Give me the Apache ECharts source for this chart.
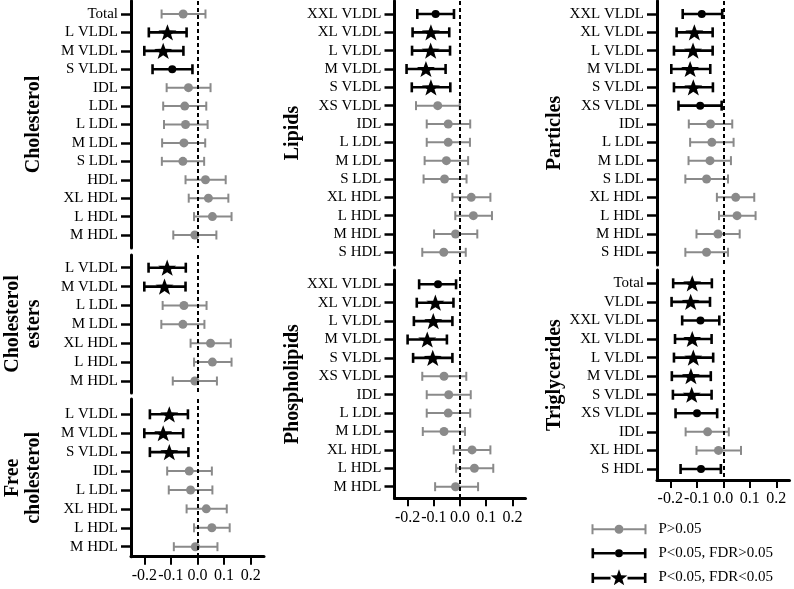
<!DOCTYPE html>
<html>
<head>
<meta charset="utf-8">
<script src="https://cdn.jsdelivr.net/npm/echarts@6/dist/echarts.min.js"></script>
<style>
  html, body { margin: 0; padding: 0; background: #fff; }
  #chart { width: 794px; height: 589px; }
</style>
</head>
<body>
<div id="chart"></div>
<script>
// values: estimate, 95% CI low / high, significance class
// sig: 0 = P>0.05, 1 = P<0.05 FDR>0.05, 2 = P<0.05 FDR<0.05
const cholLabels = ['Total', 'L VLDL', 'M VLDL', 'S VLDL', 'IDL', 'LDL', 'L LDL', 'M LDL', 'S LDL', 'HDL', 'XL HDL', 'L HDL', 'M HDL'];
const cholEst = [-0.054, -0.113, -0.129, -0.095, -0.034, -0.048, -0.045, -0.051, -0.055, 0.030, 0.041, 0.056, -0.010];
const cholLow = [-0.135, -0.183, -0.200, -0.169, -0.116, -0.129, -0.126, -0.133, -0.134, -0.045, -0.033, -0.013, -0.091];
const cholHigh = [0.030, -0.041, -0.053, -0.019, 0.049, 0.033, 0.038, 0.029, 0.025, 0.106, 0.116, 0.128, 0.071];
const cholSig = [0, 2, 2, 1, 0, 0, 0, 0, 0, 0, 0, 0, 0];

const esterLabels = ['L VLDL', 'M VLDL', 'L LDL', 'M LDL', 'XL HDL', 'L HDL', 'M HDL'];
const esterEst = [-0.114, -0.124, -0.051, -0.055, 0.049, 0.056, -0.010];
const esterLow = [-0.184, -0.200, -0.131, -0.136, -0.026, -0.013, -0.093];
const esterHigh = [-0.044, -0.045, 0.034, 0.026, 0.125, 0.128, 0.073];
const esterSig = [2, 2, 0, 0, 0, 0, 0];

const freeLabels = ['L VLDL', 'M VLDL', 'S VLDL', 'IDL', 'L LDL', 'XL HDL', 'L HDL', 'M HDL'];
const freeEst = [-0.106, -0.129, -0.106, -0.031, -0.026, 0.033, 0.054, -0.008];
const freeLow = [-0.179, -0.200, -0.179, -0.114, -0.108, -0.041, -0.013, -0.089];
const freeHigh = [-0.036, -0.054, -0.034, 0.054, 0.056, 0.110, 0.121, 0.075];
const freeSig = [2, 2, 2, 0, 0, 0, 0, 0];

const lipidLabels = ['XXL VLDL', 'XL VLDL', 'L VLDL', 'M VLDL', 'S VLDL', 'XS VLDL', 'IDL', 'L LDL', 'M LDL', 'S LDL', 'XL HDL', 'L HDL', 'M HDL', 'S HDL'];
const lipidEst = [-0.093, -0.111, -0.112, -0.130, -0.111, -0.085, -0.045, -0.045, -0.052, -0.059, 0.043, 0.051, -0.017, -0.062];
const lipidLow = [-0.163, -0.181, -0.183, -0.204, -0.184, -0.168, -0.127, -0.127, -0.135, -0.139, -0.029, -0.018, -0.099, -0.144];
const lipidHigh = [-0.023, -0.041, -0.038, -0.055, -0.037, -0.001, 0.039, 0.038, 0.031, 0.025, 0.116, 0.122, 0.066, 0.022];
const lipidSig = [1, 2, 2, 2, 2, 0, 0, 0, 0, 0, 0, 0, 0, 0];

const phosLabels = ['XXL VLDL', 'XL VLDL', 'L VLDL', 'M VLDL', 'S VLDL', 'XS VLDL', 'IDL', 'L LDL', 'M LDL', 'XL HDL', 'L HDL', 'M HDL'];
const phosEst = [-0.084, -0.094, -0.102, -0.125, -0.104, -0.061, -0.043, -0.045, -0.061, 0.046, 0.055, -0.017];
const phosLow = [-0.156, -0.165, -0.176, -0.200, -0.179, -0.144, -0.127, -0.127, -0.142, -0.024, -0.015, -0.095];
const phosHigh = [-0.015, -0.025, -0.029, -0.050, -0.029, 0.024, 0.041, 0.039, 0.019, 0.116, 0.127, 0.069];
const phosSig = [1, 2, 2, 2, 2, 0, 0, 0, 0, 0, 0, 0];

const partLabels = ['XXL VLDL', 'XL VLDL', 'L VLDL', 'M VLDL', 'S VLDL', 'XS VLDL', 'IDL', 'L LDL', 'M LDL', 'S LDL', 'XL HDL', 'L HDL', 'M HDL', 'S HDL'];
const partEst = [-0.081, -0.109, -0.114, -0.125, -0.113, -0.087, -0.048, -0.043, -0.050, -0.063, 0.047, 0.052, -0.020, -0.063];
const partLow = [-0.153, -0.176, -0.186, -0.196, -0.186, -0.169, -0.130, -0.125, -0.131, -0.143, -0.024, -0.016, -0.101, -0.143];
const partHigh = [-0.004, -0.040, -0.040, -0.049, -0.039, -0.006, 0.034, 0.039, 0.029, 0.018, 0.117, 0.122, 0.062, 0.018];
const partSig = [1, 2, 2, 2, 2, 1, 0, 0, 0, 0, 0, 0, 0, 0];

const trigLabels = ['Total', 'VLDL', 'XXL VLDL', 'XL VLDL', 'L VLDL', 'M VLDL', 'S VLDL', 'XS VLDL', 'IDL', 'XL HDL', 'S HDL'];
const trigEst = [-0.117, -0.123, -0.086, -0.117, -0.113, -0.122, -0.119, -0.099, -0.059, -0.018, -0.084];
const trigLow = [-0.189, -0.195, -0.155, -0.182, -0.186, -0.194, -0.190, -0.180, -0.142, -0.101, -0.161];
const trigHigh = [-0.043, -0.050, -0.015, -0.044, -0.038, -0.047, -0.044, -0.023, 0.021, 0.067, -0.009];
const trigSig = [2, 2, 1, 2, 2, 2, 2, 1, 0, 0, 1];

const xTicks = [-0.2, -0.1, 0, 0.1, 0.2];
const sigNames = ['P>0.05', 'P<0.05, FDR>0.05', 'P<0.05, FDR<0.05'];

const FONT = 'Liberation Serif';
const GRAY = '#8a8a8a';
const sigColors = [GRAY, '#000', '#000'];

// column x placement (left edge, width) and panel y placement (axis ends, first / last row)
const columns = [
  { left: 131, width: 133 },
  { left: 394.5, width: 131 },
  { left: 657, width: 132.5 }
];

const panels = [
  { title: 'Cholesterol', col: 0, top: 1, bottom: 248, first: 14, last: 235, xAxis: false,
    labels: cholLabels, est: cholEst, low: cholLow, high: cholHigh, sig: cholSig },
  { title: 'Cholesterol\nesters', col: 0, top: 255, bottom: 393, first: 267.7, last: 381, xAxis: false,
    labels: esterLabels, est: esterEst, low: esterLow, high: esterHigh, sig: esterSig },
  { title: 'Free\ncholesterol', col: 0, top: 399, bottom: 556.7, first: 414.3, last: 546.7, xAxis: true,
    labels: freeLabels, est: freeEst, low: freeLow, high: freeHigh, sig: freeSig },
  { title: 'Lipids', col: 1, top: 1, bottom: 265, first: 14, last: 252.3, xAxis: false,
    labels: lipidLabels, est: lipidEst, low: lipidLow, high: lipidHigh, sig: lipidSig },
  { title: 'Phospholipids', col: 1, top: 270, bottom: 498.3, first: 284.3, last: 486.7, xAxis: true,
    labels: phosLabels, est: phosEst, low: phosLow, high: phosHigh, sig: phosSig },
  { title: 'Particles', col: 2, top: 1, bottom: 265, first: 14, last: 252.3, xAxis: false,
    labels: partLabels, est: partEst, low: partLow, high: partHigh, sig: partSig },
  { title: 'Triglycerides', col: 2, top: 270, bottom: 480, first: 283.3, last: 469, xAxis: true,
    labels: trigLabels, est: trigEst, low: trigLow, high: trigHigh, sig: trigSig }
];

function starPath(cx, cy, R, r) {
  let d = '';
  for (let i = 0; i < 10; i++) {
    const rad = i % 2 === 0 ? R : r;
    const a = -Math.PI / 2 + i * Math.PI / 5;
    const x = (cx + rad * Math.cos(a)).toFixed(2);
    const y = (cy + rad * Math.sin(a)).toFixed(2);
    d += (i === 0 ? 'M' : 'L') + x + ',' + y + ' ';
  }
  return d + 'Z';
}

const STAR = 'path://' + starPath(0, 0, 10, 4);

function renderBar(params, api) {
  const y = api.value(2);
  const a = api.coord([api.value(0), y]);
  const b = api.coord([api.value(1), y]);
  const k = api.value(3);
  const h = k === 0 ? 4.5 : 5;
  const style = { stroke: sigColors[k], lineWidth: k === 0 ? 2 : 2.6, fill: null };
  return {
    type: 'group',
    children: [
      { type: 'line', shape: { x1: a[0], y1: a[1], x2: b[0], y2: b[1] }, style: style },
      { type: 'line', shape: { x1: a[0], y1: a[1] - h, x2: a[0], y2: a[1] + h }, style: style },
      { type: 'line', shape: { x1: b[0], y1: b[1] - h, x2: b[0], y2: b[1] + h }, style: style }
    ]
  };
}

const grid = [], xAxis = [], yAxis = [], series = [];

panels.forEach((p, i) => {
  const n = p.labels.length;
  const step = (p.last - p.first) / (n - 1);
  const col = columns[p.col];
  grid.push({ left: col.left, width: col.width, top: p.top, height: p.bottom - p.top, outerBoundsMode: 'none' });

  xAxis.push({
    type: 'value', gridIndex: i, min: -0.25, max: 0.25, show: p.xAxis, position: 'bottom',
    splitLine: { show: false },
    axisLine: { show: true, onZero: false, lineStyle: { color: '#000', width: 3 } },
    axisTick: { show: true, length: 8, lineStyle: { color: '#000', width: 2 }, customValues: xTicks },
    axisLabel: { customValues: xTicks, margin: 11, color: '#000', fontFamily: FONT, fontSize: 16,
      formatter: v => v.toFixed(1) }
  });

  const idx = p.labels.map((_, j) => j);
  yAxis.push({
    type: 'value', gridIndex: i, inverse: true,
    min: -(p.first - p.top) / step, max: (n - 1) + (p.bottom - p.last) / step,
    splitLine: { show: false },
    axisLine: { show: true, onZero: false, lineStyle: { color: '#000', width: 3 } },
    axisTick: { show: true, length: 10, lineStyle: { color: '#000', width: 2.5 }, customValues: idx },
    axisLabel: { customValues: idx, margin: 13, color: '#000', fontFamily: FONT, fontSize: 15,
      formatter: v => p.labels[Math.round(v)] },
    name: p.title, nameLocation: 'middle', nameRotate: 90, nameGap: 87,
    nameTextStyle: { color: '#000', fontFamily: FONT, fontSize: 20, fontWeight: 'bold', lineHeight: 21 }
  });

  [0, 1, 2].forEach(k => {
    const rows = idx.filter(j => p.sig[j] === k);
    if (!rows.length) return;
    series.push({
      type: 'custom', name: sigNames[k], xAxisIndex: i, yAxisIndex: i, z: 3,
      renderItem: renderBar, clip: false,
      encode: { x: [0, 1], y: 2 },
      data: rows.map(j => [p.low[j], p.high[j], j, k])
    });
    const s = {
      type: 'scatter', name: sigNames[k], xAxisIndex: i, yAxisIndex: i, z: k === 0 ? 2 : 4,
      symbol: k === 2 ? STAR : 'circle',
      symbolSize: k === 2 ? [18, 17] : (k === 1 ? 8 : 9),
      symbolKeepAspect: true,
      itemStyle: { color: sigColors[k], opacity: 1 },
      data: rows.map(j => [p.est[j], j])
    };
    if (k === 0) {
      s.markLine = {
        silent: true, symbol: 'none', label: { show: false },
        lineStyle: { color: '#000', type: [4, 3], width: 2 },
        data: [{ xAxis: 0 }]
      };
    }
    series.push(s);
  });
});

// legend icons: an error bar with the marker in the middle
const iconGray = 'path://M0,0 H2 V10 H0 Z M2,4 H23 V6 H2 Z M32,4 H53 V6 H32 Z M53,0 H55 V10 H53 Z ' +
  'M23,5 A4.5,4.5 0 1,1 32,5 A4.5,4.5 0 1,1 23,5 Z';
const iconDot = 'path://M0,0 H2.6 V10 H0 Z M2.6,3.7 H23.5 V6.3 H2.6 Z M31.5,3.7 H52.4 V6.3 H31.5 Z M52.4,0 H55 V10 H52.4 Z ' +
  'M23.5,5 A4,4 0 1,1 31.5,5 A4,4 0 1,1 23.5,5 Z';
const iconStar = 'path://M0,3.8 H2.6 V13.8 H0 Z M2.6,7.5 H19 V10.1 H2.6 Z M36,7.5 H52.4 V10.1 H36 Z M52.4,3.8 H55 V13.8 H52.4 Z ' +
  starPath(27.5, 8.8, 8.8, 3.6);

function legendItem(k, icon, top, h) {
  return {
    left: 591.5, top: top, padding: 0, itemWidth: 55, itemHeight: h, selectedMode: false,
    textStyle: { color: '#000', fontFamily: FONT, fontSize: 15, padding: [0, 0, 0, 7] },
    data: [{ name: sigNames[k], icon: icon, itemStyle: { color: sigColors[k] } }]
  };
}

const option = {
  backgroundColor: '#fff',
  animation: false,
  grid: grid,
  xAxis: xAxis,
  yAxis: yAxis,
  legend: [
    legendItem(0, iconGray, 521.8, 10),
    legendItem(1, iconDot, 545.8, 10),
    legendItem(2, iconStar, 569.3, 16)
  ],
  series: series
};

const myChart = echarts.init(document.getElementById('chart'));
myChart.setOption(option);
</script>
</body>
</html>
